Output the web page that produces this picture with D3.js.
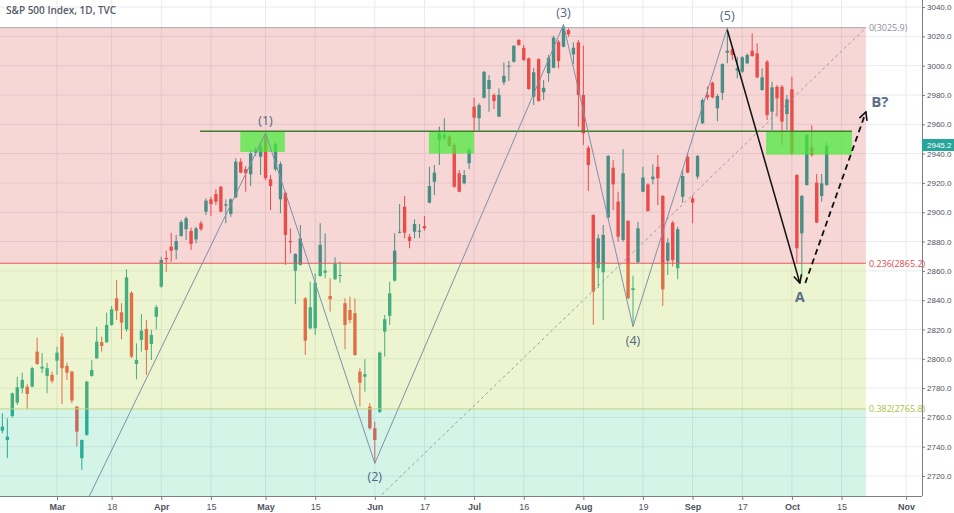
<!DOCTYPE html>
<html><head><meta charset="utf-8">
<script src="https://cdn.jsdelivr.net/npm/d3@7"></script>
<style>body{margin:0;background:#fff;} svg{display:block;}</style>
</head><body>
<svg id="chart" width="954" height="513"></svg>
<script>
// ---------- DATA ----------
const title = "S&P 500 Index, 1D, TVC";
// bar index of the first candle (0 = Mar 1, trading days)
const firstBarIndex = -11;
const open = [2751.0,2744.6,2761.0,2770.1,2779.9,2781.0,2781.0,2804.9,2793.3,2788.3,2789.0,2798.7,2815.1,2795.1,2791.2,2767.4,2732.2,2748.1,2788.3,2800.4,
2811.3,2811.3,2823.1,2841.3,2831.7,2820.1,2845.1,2796.5,2812.9,2820.4,2810.1,2828.7,2849.2,2868.8,2876.5,2874.3,2883.8,2888.4,2887.2,2881.5,
2892.5,2900.4,2908.8,2912.4,2917.4,2904.5,2898.8,2910.2,2934.5,2929.3,2925.9,2940.6,2937.9,2952.5,2922.5,2929.3,2908.8,2913.3,2880.4,2860.1,
2864.0,2841.3,2820.8,2820.8,2856.5,2858.7,2842.9,2854.3,2856.5,2837.9,2833.3,2831.1,2791.2,2787.8,2767.4,2752.6,2763.9,2818.5,2829.3,2853.3,
2886.0,2903.8,2883.3,2886.7,2886.7,2890.6,2906.5,2920.8,2949.3,2950.8,2951.5,2945.9,2926.6,2919.7,2933.4,2972.0,2964.1,2978.1,2984.1,2980.0,
2965.2,2988.6,2999.3,3002.7,3017.5,3012.2,3005.0,2978.8,3004.5,2981.8,2994.8,2998.6,3016.3,3012.9,3024.3,3007.7,3015.9,2980.0,2944.0,2898.1,
2861.8,2859.0,2896.3,2930.4,2907.2,2881.1,2894.0,2846.9,2865.9,2914.0,2919.0,2922.5,2931.0,2911.1,2866.9,2892.9,2861.8,2910.6,2937.9,2909.5,
2924.3,2960.7,2980.0,2988.4,2970.9,2981.5,3008.8,3011.2,2996.6,2995.9,3001.6,3010.2,3008.4,2983.4,3002.7,2968.6,2985.6,2985.6,2967.0,2983.9,
2925.4,2885.6,2918.6,2944.3,2920.2,2911.1,2918.6];
const high = [2762.9,2759.4,2777.0,2787.8,2790.6,2782.8,2794.5,2814.4,2804.0,2797.2,2791.2,2808.3,2817.4,2797.4,2791.9,2767.8,2745.0,2785.0,2799.2,2821.9,
2815.1,2831.5,2836.0,2853.8,2837.9,2861.1,2846.0,2810.6,2830.6,2826.5,2819.7,2836.7,2869.7,2873.8,2886.0,2884.5,2894.7,2897.0,2889.5,2890.1,
2894.0,2909.5,2910.6,2915.6,2918.0,2908.8,2909.5,2936.8,2936.8,2931.5,2942.9,2944.5,2948.1,2954.1,2925.4,2948.0,2934.5,2914.0,2889.0,2872.0,
2891.3,2842.0,2852.6,2858.3,2892.5,2885.6,2854.9,2869.3,2866.2,2841.3,2842.4,2841.3,2793.6,2799.7,2769.7,2757.1,2805.0,2829.9,2852.6,2885.6,
2905.6,2911.1,2885.2,2895.2,2892.0,2897.4,2931.0,2932.2,2958.4,2964.1,2952.7,2947.0,2928.8,2928.8,2944.0,2978.1,2974.3,2996.3,2993.6,2981.1,
2984.5,3002.3,3003.2,3014.0,3018.2,3014.1,3005.5,2998.6,3005.0,2990.2,3007.3,3020.4,3017.5,3028.0,3025.5,3015.9,3017.5,3013.6,2945.4,2898.6,
2885.0,2891.3,2939.0,2935.6,2914.0,2943.1,2894.7,2856.7,2893.5,2931.0,2919.7,2932.7,2939.0,2911.8,2882.2,2894.2,2890.1,2929.3,2940.2,2911.7,
2939.0,2977.7,2985.6,2989.0,2980.7,3001.6,3025.9,3011.8,3006.1,3006.6,3008.4,3022.1,3015.2,2998.2,3003.8,2989.0,2986.8,2986.8,2980.0,2992.5,
2926.0,2911.8,2953.2,2959.3,2926.1,2926.1,2947.5];
const low = [2749.2,2732.2,2760.0,2768.5,2776.5,2765.6,2780.5,2795.8,2790.4,2776.5,2783.3,2789.0,2769.2,2785.6,2769.7,2740.1,2724.2,2747.5,2787.8,2800.0,
2804.9,2811.0,2822.5,2826.5,2813.3,2818.5,2800.5,2786.0,2804.9,2789.0,2799.2,2820.1,2848.5,2859.4,2866.2,2867.9,2883.3,2881.1,2874.3,2878.8,
2887.2,2898.1,2897.4,2904.9,2900.0,2892.5,2896.9,2909.5,2926.6,2914.0,2917.9,2938.4,2925.4,2921.8,2901.5,2928.0,2899.3,2864.0,2872.0,2837.4,
2863.5,2802.6,2820.0,2816.3,2856.0,2854.9,2832.2,2853.8,2851.9,2806.5,2824.3,2802.0,2767.4,2777.6,2751.5,2728.5,2763.0,2801.5,2823.1,2852.8,
2885.6,2882.2,2875.4,2882.2,2882.4,2887.4,2906.1,2911.7,2932.2,2949.3,2944.8,2916.7,2913.6,2919.0,2929.5,2955.4,2955.4,2977.5,2968.6,2970.4,
2965.0,2986.8,2989.5,3002.0,3013.6,3003.3,2983.5,2973.1,2975.5,2976.6,2989.0,2998.2,2998.2,3012.5,3019.7,3000.9,2958.4,2945.9,2914.5,2823.1,
2848.1,2826.5,2895.9,2901.5,2879.9,2879.9,2840.8,2821.9,2865.2,2913.6,2900.4,2919.0,2904.9,2836.0,2857.2,2862.9,2854.3,2906.5,2926.6,2892.5,
2922.5,2960.2,2976.6,2977.7,2962.0,2976.6,3001.6,3003.8,2991.4,2995.0,3001.2,3006.1,2991.4,2982.9,2962.9,2956.1,2965.2,2945.9,2956.1,2939.0,
2865.2,2855.9,2918.1,2937.9,2892.5,2907.2,2918.1];
const close = [2753.7,2746.9,2776.5,2780.6,2785.6,2776.0,2793.6,2796.5,2794.6,2793.6,2784.9,2804.2,2793.6,2790.6,2771.5,2750.3,2744.6,2784.4,2792.4,2811.7,
2808.8,2823.1,2833.8,2832.8,2824.7,2855.6,2801.5,2799.2,2819.2,2806.0,2816.3,2835.2,2867.4,2867.9,2873.8,2880.4,2893.3,2895.9,2878.3,2889.0,
2888.4,2907.9,2905.6,2907.2,2900.4,2905.4,2908.8,2934.5,2927.0,2926.6,2940.2,2942.9,2945.2,2923.2,2917.9,2946.5,2932.9,2884.5,2879.5,2871.5,
2882.2,2812.4,2835.2,2851.9,2877.7,2860.1,2840.6,2865.2,2857.2,2823.1,2826.5,2802.6,2783.7,2789.5,2752.6,2744.6,2804.2,2827.0,2844.7,2873.8,
2886.7,2886.0,2880.4,2892.0,2887.4,2889.0,2917.9,2927.0,2953.8,2952.7,2945.4,2917.4,2914.0,2925.4,2942.5,2964.5,2973.1,2995.8,2990.2,2975.9,
2980.0,2993.1,2999.9,3013.6,3014.1,3003.8,2984.1,2995.5,2975.9,2984.9,3005.4,3019.1,3003.2,3026.6,3021.4,3012.2,2980.0,2953.8,2932.2,2845.8,
2882.2,2884.5,2938.4,2919.0,2883.3,2926.6,2841.3,2848.1,2889.0,2923.6,2900.8,2924.3,2923.2,2847.4,2879.2,2867.4,2888.4,2924.7,2927.0,2906.5,
2938.4,2976.6,2978.4,2978.4,2979.3,3001.1,3010.2,3007.3,2998.2,3005.7,3007.3,3006.6,2992.0,2992.0,2966.3,2985.2,2977.7,2961.8,2977.0,2940.2,
2875.4,2911.1,2952.7,2939.0,2892.9,2919.7,2945.2];

const xTickIdx    = [0, 11, 21, 31, 42, 52, 64, 74, 84, 94, 106, 118, 128, 138, 148, 158, 171];
const xTickLabels = ["Mar","18","Apr","15","May","15","Jun","17","Jul","16","Aug","19","Sep","17","Oct","15","Nov"];
const monthLabels = ["Mar","Apr","May","Jun","Jul","Aug","Sep","Oct","Nov"];
const yTicks = [2720,2740,2760,2780,2800,2820,2840,2860,2880,2900,2920,2940,2960,2980,3000,3020,3040];

// Fibonacci retracement (from Dec low to Sep high)
const fibStart = {i: -45, p: 2346.6};
const fibEnd   = {i: 162.9, p: 3025.9};
const fibLevels = [0, 0.236, 0.382, 0.5];
const fibPrices = [3025.9, 2865.2, 2765.8, 2686.3];
const fibLabels = ["0(3025.9)", "0.236(2865.2)", "0.382(2765.8)"];

// Elliott wave pivots
const waveIdx   = [-45, 42, 64, 102, 116, 135];
const wavePrice = [2346.6, 2954.1, 2728.8, 3028.0, 2822.0, 3025.9];
const waveLabels = ["", "(1)", "(2)", "(3)", "(4)", "(5)"];

// Resistance line and zones
const resistPrice = 2955.3;
const resistFrom = 28.8, resistTo = 160.1;
const zoneFrom = [36.9, 74.9, 142.8];
const zoneTo   = [45.9, 84.0, 160.1];
const zoneTop  = [2955.4, 2955.4, 2955.4];
const zoneBot  = [2941.1, 2940.0, 2939.3];

// Projection arrows
const arrowA = [{i: 135, p: 3024.3}, {i: 149.6, p: 2851.7}];
const arrowB = [{i: 150.7, p: 2851.7}, {i: 162.9, p: 2968.4}];
const lastPrice = 2945.2;

// ---------- CHART ----------
const W = 954, H = 513, plotR = 922, plotB = 496;
const svg = d3.select("#chart");
const x = d3.scaleLinear().domain([-11.48, 174.2]).range([0, plotR]);
const y = d3.scaleLinear().domain([2706.4, 3044.8]).range([plotB, 0]);
const font = "'Open Sans', 'Noto Sans', sans-serif";
const axisFont = "'Liberation Sans', Arial, sans-serif";

svg.append("rect").attr("width", W).attr("height", H).attr("fill", "#fff");
const defs = svg.append("defs");
defs.append("clipPath").attr("id", "plot").append("rect").attr("width", plotR).attr("height", plotB);
function marker(id, color) {
  defs.append("marker").attr("id", id).attr("viewBox", "0 0 10 10")
    .attr("refX", 9).attr("refY", 5).attr("markerWidth", 10).attr("markerHeight", 10)
    .attr("markerUnits", "userSpaceOnUse").attr("orient", "auto")
    .append("path").attr("d", "M1,1 L9,5 L1,9").attr("fill", "none")
    .attr("stroke", color).attr("stroke-width", 1.6);
}
marker("arrowK", "#111");

const g = svg.append("g").attr("clip-path", "url(#plot)");

// grid
g.append("g").selectAll("line").data(yTicks).join("line")
  .attr("x1", 0).attr("x2", plotR).attr("y1", d => y(d)).attr("y2", d => y(d))
  .attr("stroke", "#e8ebf0").attr("stroke-width", 1);
g.append("g").selectAll("line").data(xTickIdx).join("line")
  .attr("x1", d => x(d)).attr("x2", d => x(d)).attr("y1", 0).attr("y2", plotB)
  .attr("stroke", "#e8ebf0").attr("stroke-width", 1);

// candles
const bars = open.map((o, k) => ({i: firstBarIndex + k, o, h: high[k], l: low[k], c: close[k]}));
const up = "#26a69a", down = "#ef5350";
const cg = g.append("g");
cg.selectAll("line").data(bars).join("line")
  .attr("x1", d => x(d.i)).attr("x2", d => x(d.i))
  .attr("y1", d => y(d.h)).attr("y2", d => y(d.l))
  .attr("stroke", d => d.c >= d.o ? up : down).attr("stroke-width", 1);
cg.selectAll("rect").data(bars).join("rect")
  .attr("x", d => x(d.i) - 1.7).attr("width", 3.4)
  .attr("y", d => y(Math.max(d.o, d.c)))
  .attr("height", d => Math.max(1, Math.abs(y(d.o) - y(d.c))))
  .attr("fill", d => d.c >= d.o ? up : down);

// fib bands (semi-transparent, over candles)
const bandColors = ["rgb(215,50,50)", "rgb(175,210,40)", "rgb(40,200,140)"];
const bandAlpha = [0.2, 0.22, 0.2];
const fx1 = Math.max(0, x(fibStart.i)), fx2 = x(fibEnd.i);
for (let k = 0; k < 3; k++) {
  g.append("rect").attr("x", fx1).attr("width", fx2 - fx1)
    .attr("y", y(fibPrices[k])).attr("height", y(fibPrices[k + 1]) - y(fibPrices[k]))
    .attr("fill", bandColors[k]).attr("fill-opacity", bandAlpha[k]);
}
const lineColors = ["#a0a3ab", "#e5585c", "#c3d47c"];
const labelColors = ["#8c8f98", "#e04a4f", "#a9c23c"];
for (let k = 0; k < 3; k++) {
  g.append("line").attr("x1", fx1).attr("x2", fx2)
    .attr("y1", y(fibPrices[k])).attr("y2", y(fibPrices[k]))
    .attr("stroke", lineColors[k]).attr("stroke-width", 1);
  svg.append("text").attr("x", fx2 + 3).attr("y", y(fibPrices[k]) + 3.5)
    .attr("font-family", font).attr("font-size", 9).attr("fill", labelColors[k])
    .text(fibLabels[k]);
}
// fib trend line (dashed)
g.append("line").attr("x1", x(fibStart.i)).attr("y1", y(fibStart.p))
  .attr("x2", x(fibEnd.i)).attr("y2", y(fibEnd.p))
  .attr("stroke", "#9a9ca4").attr("stroke-width", 1).attr("stroke-dasharray", "3,3");

// resistance zones
for (let k = 0; k < zoneFrom.length; k++) {
  g.append("rect").attr("x", x(zoneFrom[k])).attr("width", x(zoneTo[k]) - x(zoneFrom[k]))
    .attr("y", y(zoneTop[k])).attr("height", y(zoneBot[k]) - y(zoneTop[k]))
    .attr("fill", "rgb(70,235,56)").attr("fill-opacity", 0.72);
}
g.append("line").attr("x1", x(resistFrom)).attr("x2", x(resistTo))
  .attr("y1", y(resistPrice)).attr("y2", y(resistPrice))
  .attr("stroke", "#3f7f2e").attr("stroke-width", 1.5);

// wave lines
const wavePts = waveIdx.map((d, k) => [x(d), y(wavePrice[k])]);
g.append("path").attr("d", d3.line()(wavePts)).attr("fill", "none")
  .attr("stroke", "#7f90aa").attr("stroke-width", 1);
waveLabels.forEach((t, k) => {
  if (!t) return;
  const isHigh = k % 2 === 1;
  svg.append("text").attr("x", wavePts[k][0]).attr("y", isHigh ? wavePts[k][1] - 8 : wavePts[k][1] + 18)
    .attr("text-anchor", "middle").attr("font-family", font).attr("font-size", 12.5)
    .attr("fill", "#4f6784").text(t);
});

// arrows
g.append("line").attr("x1", x(arrowA[0].i)).attr("y1", y(arrowA[0].p))
  .attr("x2", x(arrowA[1].i)).attr("y2", y(arrowA[1].p))
  .attr("stroke", "#111").attr("stroke-width", 1.5).attr("marker-end", "url(#arrowK)");
g.append("line").attr("x1", x(arrowB[0].i)).attr("y1", y(arrowB[0].p))
  .attr("x2", x(arrowB[1].i)).attr("y2", y(arrowB[1].p))
  .attr("stroke", "#111").attr("stroke-width", 1.8).attr("stroke-dasharray", "6,4")
  .attr("marker-end", "url(#arrowK)");
svg.append("text").attr("x", x(arrowA[1].i)).attr("y", y(arrowA[1].p) + 19)
  .attr("text-anchor", "middle").attr("font-family", font).attr("font-size", 14)
  .attr("font-weight", 700).attr("fill", "#5b6f87").text("A");
svg.append("text").attr("x", x(arrowB[1].i) + 14).attr("y", y(arrowB[1].p) - 5)
  .attr("text-anchor", "middle").attr("font-family", font).attr("font-size", 15)
  .attr("font-weight", 700).attr("fill", "#5b6f87").text("B?");

// axes
const yAxis = d3.axisRight(y).tickValues(yTicks).tickFormat(d3.format(".1f"))
  .tickSize(3).tickPadding(2);
const ya = svg.append("g").attr("transform", `translate(${plotR},0)`).call(yAxis);
const xAxis = d3.axisBottom(x).tickValues(xTickIdx).tickFormat((d, k) => xTickLabels[k])
  .tickSize(4).tickPadding(4);
const xa = svg.append("g").attr("transform", `translate(0,${plotB})`).call(xAxis);
[ya, xa].forEach(a => {
  a.select(".domain").attr("stroke", "#7a7d85");
  a.selectAll(".tick line").attr("stroke", "#7a7d85");
  a.selectAll("text").attr("font-family", axisFont).attr("fill", "#50535e");
});
ya.selectAll("text").attr("font-size", 8);
xa.selectAll("text").attr("font-size", 9);
xa.select(".domain").attr("d", `M0,0.5H${plotR}`);
ya.select(".domain").attr("d", `M0.5,0V${plotB}`);
xa.selectAll(".tick text").attr("font-weight", (d, k) => monthLabels.includes(xTickLabels[k]) ? 700 : 400);

// last price label
const lp = svg.append("g").attr("transform", `translate(${plotR},${y(lastPrice)})`);
lp.append("rect").attr("x", 0).attr("y", -7).attr("width", W - plotR).attr("height", 12).attr("fill", "#26a69a");
lp.append("text").attr("x", 5).attr("y", 2.5).attr("font-family", axisFont).attr("font-size", 8)
  .attr("fill", "#fff").text(lastPrice.toFixed(1));

// title
svg.append("text").attr("x", 6).attr("y", 14).attr("font-family", font).attr("font-size", 10)
  .attr("font-weight", 600).attr("fill", "#555a66").text(title);
</script>
</body></html>
